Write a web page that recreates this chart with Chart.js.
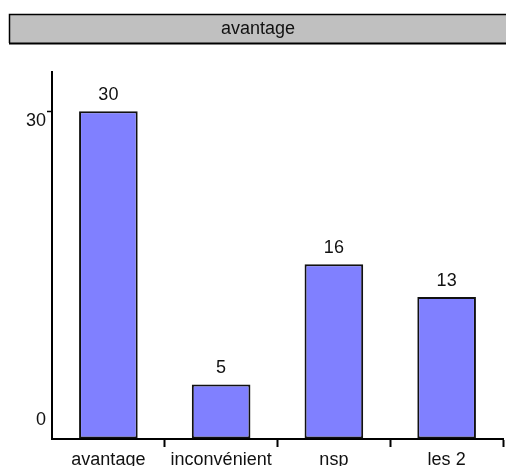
<!DOCTYPE html>
<html>
<head>
<meta charset="utf-8">
<title>avantage</title>
<script src="https://cdn.jsdelivr.net/npm/chart.js@4.4.1/dist/chart.umd.min.js"></script>
<style>
  html, body { margin: 0; padding: 0; background: #fff; }
  canvas { display: block; }
</style>
</head>
<body>
<canvas id="avantageChart" width="506" height="466"></canvas>
<script>
'use strict'

const titleText = 'avantage';
const categories = ['avantage', 'inconvénient', 'nsp', 'les 2'];
const counts = [30, 5, 16, 13];
const yTicks = [0, 30];
const yMax = 33.6;

const fontFamily = "'Liberation Sans', Arial, Helvetica, sans-serif";
const fontSize = 18;

// grey header band holding the question name, open on the right
const headerBand = {
    id: 'headerBand',
    beforeDraw(chart) {
        const ctx = chart.ctx;
        const w = chart.width;
        ctx.save();
        ctx.fillStyle = '#c0c0c0';
        ctx.fillRect(9, 14, w, 30);
        ctx.strokeStyle = '#000';
        ctx.lineWidth = 1.5;
        ctx.beginPath();
        ctx.moveTo(w, 14.5);
        ctx.lineTo(9.5, 14.5);
        ctx.lineTo(9.5, 43);
        ctx.stroke();
        ctx.lineWidth = 2;
        ctx.beginPath();
        ctx.moveTo(9, 43.5);
        ctx.lineTo(w, 43.5);
        ctx.stroke();
        ctx.fillStyle = '#111';
        ctx.font = fontSize + 'px ' + fontFamily;
        ctx.textAlign = 'center';
        ctx.textBaseline = 'middle';
        ctx.fillText(titleText, 258, 29.5);
        ctx.restore();
    }
};

// counts written above each bar
const valueLabels = {
    id: 'valueLabels',
    afterDatasetsDraw(chart) {
        const ctx = chart.ctx;
        const meta = chart.getDatasetMeta(0);
        ctx.save();
        ctx.fillStyle = '#111';
        ctx.font = fontSize + 'px ' + fontFamily;
        ctx.textAlign = 'center';
        ctx.textBaseline = 'alphabetic';
        meta.data.forEach((bar, i) => {
            ctx.fillText(String(counts[i]), bar.x, bar.y - 11.5);
        });
        ctx.restore();
    }
};

// y labels sit off their tick marks: top one below it, zero above the axis
const yLabels = {
    id: 'yLabels',
    afterDraw(chart) {
        const ctx = chart.ctx;
        const scale = chart.scales.y;
        ctx.save();
        ctx.fillStyle = '#111';
        ctx.font = fontSize + 'px ' + fontFamily;
        ctx.textAlign = 'right';
        ctx.textBaseline = 'middle';
        yTicks.forEach(v => {
            const py = scale.getPixelForValue(v) + (v === 0 ? -19 : 10);
            ctx.fillText(String(v), chart.chartArea.left - 6, py);
        });
        ctx.restore();
    }
};

new Chart(document.getElementById('avantageChart'), {
    type: 'bar',
    data: {
        labels: categories,
        datasets: [{
            data: counts,
            backgroundColor: '#8080ff',
            borderColor: '#111',
            borderWidth: 2,
            borderSkipped: false,
            barPercentage: 0.52,
            categoryPercentage: 1
        }]
    },
    options: {
        responsive: false,
        animation: false,
        layout: {
            padding: { top: 72, right: 3, left: 0, bottom: 0 }
        },
        plugins: {
            legend: { display: false },
            tooltip: { enabled: false }
        },
        scales: {
            x: {
                grid: {
                    offset: true,
                    drawOnChartArea: false,
                    tickLength: 8,
                    tickWidth: 2,
                    tickColor: ctx => ctx.index === 0 ? 'rgba(0,0,0,0)' : '#000'
                },
                border: { color: '#000', width: 2 },
                ticks: {
                    color: '#111',
                    font: { family: fontFamily, size: fontSize },
                    padding: 2,
                    maxRotation: 0,
                    autoSkip: false
                },
                afterFit(scale) { scale.height = 27; }
            },
            y: {
                min: 0,
                max: yMax,
                afterBuildTicks(scale) {
                    scale.ticks = yTicks.map(v => ({ value: v }));
                },
                grid: {
                    drawOnChartArea: false,
                    tickLength: 5,
                    tickWidth: 1.5,
                    tickColor: ctx => ctx.tick && ctx.tick.value === 0 ? 'rgba(0,0,0,0)' : '#000'
                },
                border: { color: '#000', width: 2 },
                ticks: { display: false },
                afterFit(scale) { scale.width = 52; }
            }
        }
    },
    plugins: [headerBand, valueLabels, yLabels]
});
</script>
</body>
</html>
